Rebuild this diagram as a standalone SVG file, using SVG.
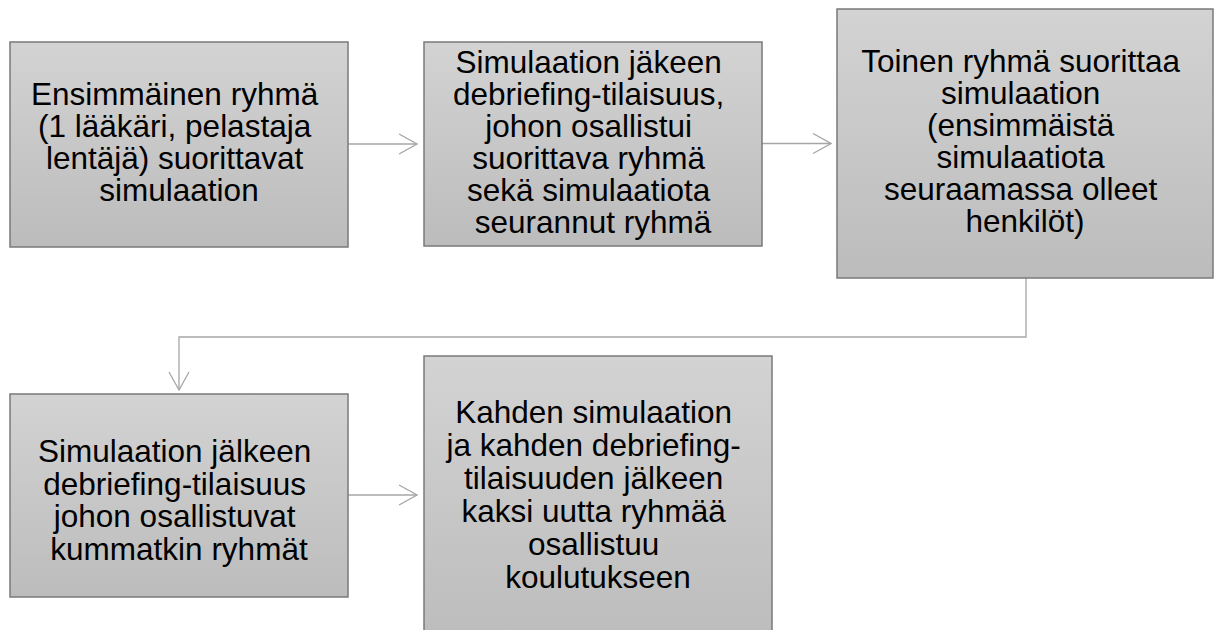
<svg xmlns="http://www.w3.org/2000/svg" width="1222" height="630" viewBox="0 0 1222 630">
  <defs>
    <linearGradient id="boxfill" x1="0" y1="0" x2="0" y2="1">
      <stop offset="0" stop-color="#d3d3d3"/>
      <stop offset="1" stop-color="#bcbcbc"/>
    </linearGradient>
    <marker id="arrow" viewBox="0 0 20 22" refX="19" refY="11" markerWidth="20" markerHeight="22" markerUnits="userSpaceOnUse" orient="auto">
      <path d="M1,1 L19,11 L1,21" fill="none" stroke="#a6a6a6" stroke-width="1.3"/>
    </marker>
  </defs>
  <style>
    .box { fill: url(#boxfill); stroke: #7a7a7a; stroke-width: 1.5; }
    .lbl { font-family: "Liberation Sans", Arial, sans-serif; font-size: 31.5px; fill: #000; text-anchor: middle; }
    .conn { fill: none; stroke: #a6a6a6; stroke-width: 1.3; marker-end: url(#arrow); }
  </style>
  <rect width="1222" height="630" fill="#ffffff"/>
  <g id="connectors">
    <line class="conn" x1="348" y1="144" x2="417" y2="144"/>
    <line class="conn" x1="762" y1="143.5" x2="831" y2="143.5"/>
    <polyline class="conn" points="1026,278 1026,337 179,337 179,390"/>
    <line class="conn" x1="348" y1="495" x2="417" y2="495"/>
  </g>
  <g id="node1">
    <rect class="box" x="10" y="42" width="338" height="205"/>
    <text class="lbl">
      <tspan x="179" y="105">Ensimmäinen ryhmä</tspan>
      <tspan x="179" y="137">(1 lääkäri, pelastaja</tspan>
      <tspan x="179" y="169">lentäjä) suorittavat</tspan>
      <tspan x="179" y="201">simulaation</tspan>
    </text>
  </g>
  <g id="node2">
    <rect class="box" x="424" y="42" width="338" height="204"/>
    <text class="lbl">
      <tspan x="593" y="73">Simulaation jäkeen</tspan>
      <tspan x="593" y="105">debriefing-tilaisuus,</tspan>
      <tspan x="593" y="137">johon osallistui</tspan>
      <tspan x="593" y="169">suorittava ryhmä</tspan>
      <tspan x="593" y="201">sekä simulaatiota</tspan>
      <tspan x="593" y="233">seurannut ryhmä</tspan>
    </text>
  </g>
  <g id="node3">
    <rect class="box" x="837" y="9" width="376" height="269"/>
    <text class="lbl">
      <tspan x="1025" y="72">Toinen ryhmä suorittaa</tspan>
      <tspan x="1025" y="104">simulaation</tspan>
      <tspan x="1025" y="136">(ensimmäistä</tspan>
      <tspan x="1025" y="168">simulaatiota</tspan>
      <tspan x="1025" y="200">seuraamassa olleet</tspan>
      <tspan x="1025" y="232">henkilöt)</tspan>
    </text>
  </g>
  <g id="node4">
    <rect class="box" x="10" y="394" width="338" height="203"/>
    <text class="lbl">
      <tspan x="179" y="462">Simulaation jälkeen</tspan>
      <tspan x="179" y="494.5">debriefing-tilaisuus</tspan>
      <tspan x="179" y="527">johon osallistuvat</tspan>
      <tspan x="179" y="559.5">kummatkin ryhmät</tspan>
    </text>
  </g>
  <g id="node5">
    <rect class="box" x="424" y="356" width="348" height="290"/>
    <text class="lbl">
      <tspan x="598" y="423">Kahden simulaation</tspan>
      <tspan x="598" y="456">ja kahden debriefing-</tspan>
      <tspan x="598" y="489">tilaisuuden jälkeen</tspan>
      <tspan x="598" y="522">kaksi uutta ryhmää</tspan>
      <tspan x="598" y="555">osallistuu</tspan>
      <tspan x="598" y="588">koulutukseen</tspan>
    </text>
  </g>
</svg>
